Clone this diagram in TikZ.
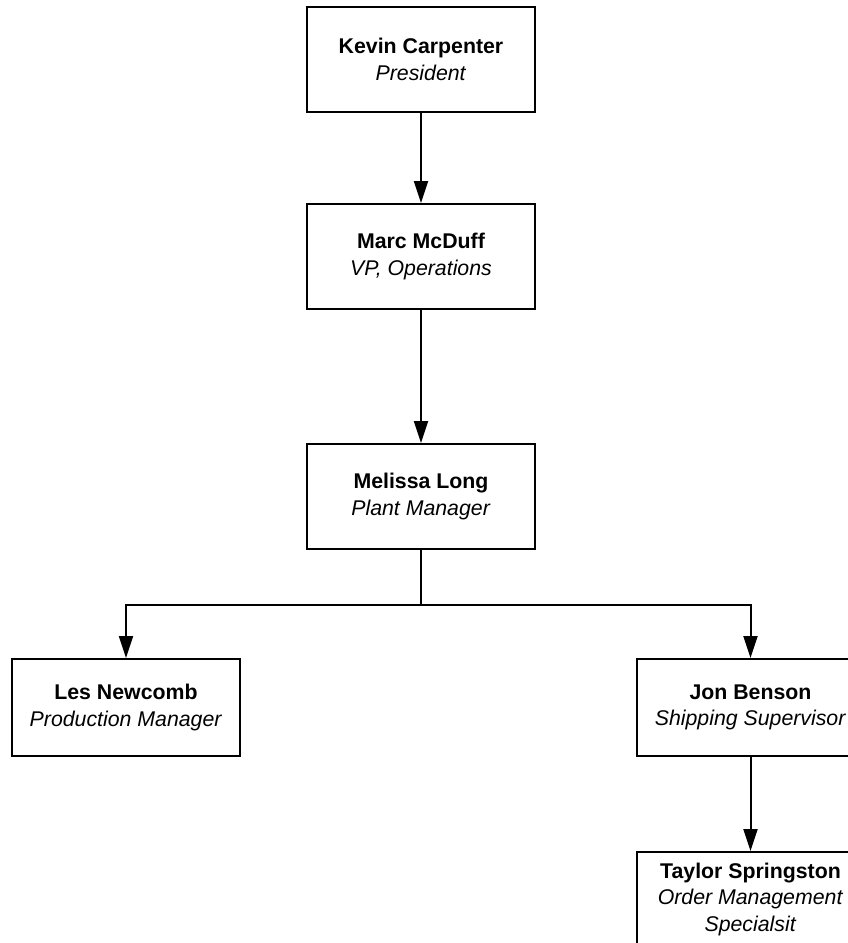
\documentclass[tikz,border=0pt]{standalone}
\usepackage{fontspec}
\setmainfont{Liberation Sans}
\usetikzlibrary{arrows.meta}
\begin{document}
\begin{tikzpicture}[x=1pt,y=-1pt,
  person/.style={draw=black, line width=2pt, fill=white, minimum width=228pt,
    minimum height=105pt, inner sep=0pt, align=center,
    font=\fontsize{21.3}{26.5}\selectfont},
  shortbox/.style={person, minimum height=97pt},
  link/.style={line width=2pt, -{Triangle[length=22pt,width=14pt]}}]
\useasboundingbox (0,0) rectangle (848,943);
\clip (0,0) rectangle (848,943);
\node[person] (kevin) at (421,59.5) {\textbf{Kevin Carpenter}\\\textit{President}};
\node[person] (marc) at (421,256.5) {\textbf{Marc McDuff}\\\textit{VP, Operations}};
\node[person] (melissa) at (421,496.5) {\textbf{Melissa Long}\\\textit{Plant Manager}};
\node[shortbox] (les) at (126,707.5) {\textbf{Les Newcomb}\\\textit{Production Manager}};
\node[shortbox] (jon) at (750.5,707.5) {\textbf{Jon Benson}\\\textit{Shipping Supervisor}};
\node[person, minimum height=94pt] (taylor) at (750.5,899) {\textbf{Taylor Springston}\\\textit{Order Management}\\\textit{Specialsit}};
\coordinate (split) at (421,604.5);
\draw[link] (kevin) -- (marc);
\draw[link] (marc) -- (melissa);
\draw[line width=2pt] (melissa.south) -- (split);
\draw[link] (split) -| (les.north);
\draw[link] (split) -| (jon.north);
\draw[link] (jon) -- (taylor);
\end{tikzpicture}
\end{document}
